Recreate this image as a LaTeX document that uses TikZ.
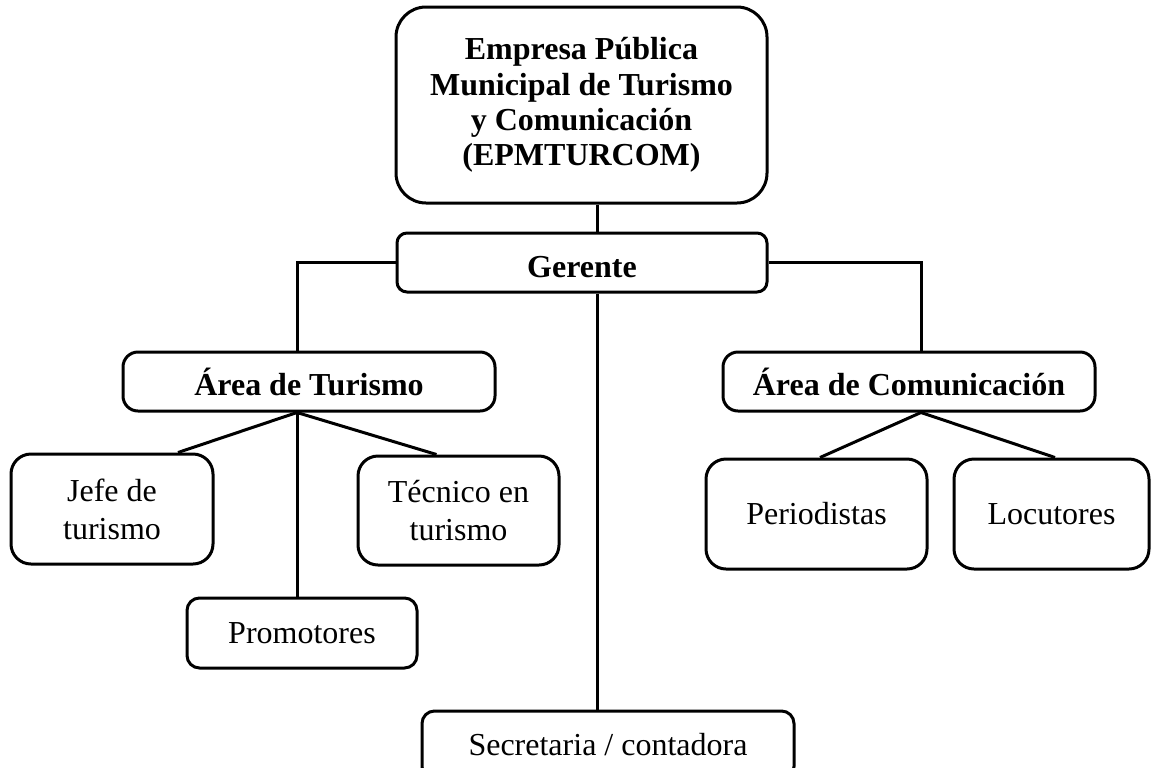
\documentclass[tikz,border=0pt]{standalone}
\usepackage{fontspec}
\setmainfont{Liberation Serif}
\usetikzlibrary{calc}
\begin{document}
\begin{tikzpicture}[x=0.4pt,y=-0.4pt,
  box/.style={draw, line width=1.2pt, align=center, inner sep=0pt,
    font=\fontsize{12.8}{15.2}\selectfont},
  bbox/.style={box, font=\fontsize{12.8}{14.1}\selectfont\bfseries},
  conn/.style={line width=1.2pt}]
\useasboundingbox (0,0) rectangle (1152,767);
\clip (0,0) rectangle (1152,767);

% nodes
\node[bbox, rounded corners=12pt, minimum width={371*0.4pt}, minimum height={196*0.4pt}]
  (top) at (581.5,105) {Empresa Pública\\Municipal de Turismo\\y Comunicación\\(EPMTURCOM)};
\node[bbox, rounded corners=4pt, minimum width={370*0.4pt}, minimum height={59*0.4pt},
  text height=11.6pt, text depth=0pt]
  (ger) at (582,262.5) {Gerente};
\node[bbox, rounded corners=6pt, minimum width={372*0.4pt}, minimum height={59*0.4pt}]
  (at) at (309,381.5) {Área de Turismo};
\node[bbox, rounded corners=6pt, minimum width={372*0.4pt}, minimum height={59*0.4pt}]
  (ac) at (909,381.5) {Área de Comunicación};
\node[box, rounded corners=8pt, minimum width={202*0.4pt}, minimum height={110*0.4pt}]
  (jefe) at (112,509) {Jefe de\\turismo};
\node[box, rounded corners=8pt, minimum width={201*0.4pt}, minimum height={109*0.4pt}]
  (tec) at (458.5,510.5) {Técnico en\\turismo};
\node[box, rounded corners=5pt, minimum width={230*0.4pt}, minimum height={70*0.4pt}]
  (prom) at (302,633) {Promotores};
\node[box, rounded corners=8pt, minimum width={221*0.4pt}, minimum height={110*0.4pt}]
  (per) at (816.5,514) {Periodistas};
\node[box, rounded corners=8pt, minimum width={195*0.4pt}, minimum height={110*0.4pt}]
  (loc) at (1051.5,514) {Locutores};
\node[box, rounded corners=5pt, minimum width={372*0.4pt}, minimum height={68*0.4pt}]
  (sec) at (608,745) {Secretaria / contadora};

% helper x positions
\coordinate (c1) at (597,0);
\coordinate (c2) at (297,0);
\coordinate (c3) at (921,0);

% connectors
\draw[conn] (top.south -| c1) -- (ger.north -| c1);
\draw[conn] (ger.west) -- (ger.west -| c2) -- (at.north -| c2);
\draw[conn] (ger.east) -- (ger.east -| c3) -- (ac.north -| c3);
\draw[conn] (ger.south -| c1) -- (sec.north -| c1);
\draw[conn] (at.south -| c2) -- ($(jefe.north)+(66,0)$);
\draw[conn] (at.south -| c2) -- ($(tec.north)+(-22,0)$);
\draw[conn] (at.south -| c2) -- (prom.north -| c2);
\draw[conn] (ac.south -| c3) -- ($(per.north)+(3.5,0)$);
\draw[conn] (ac.south -| c3) -- ($(loc.north)+(3.5,0)$);
\end{tikzpicture}
\end{document}
